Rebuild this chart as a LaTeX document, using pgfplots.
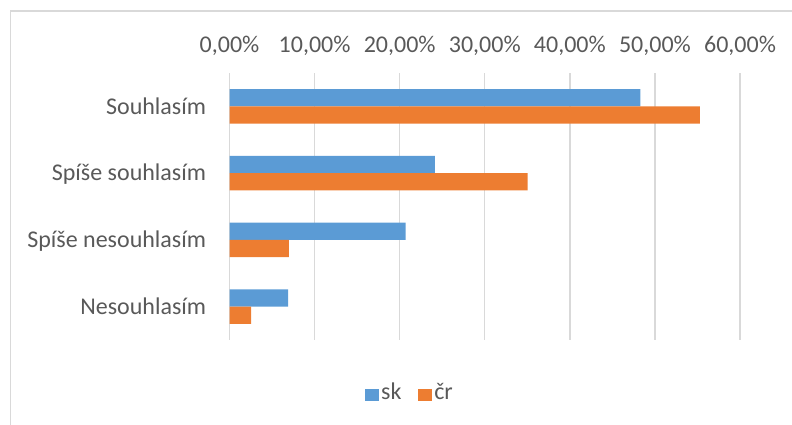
\documentclass[border=0pt]{standalone}
\usepackage{pgfplots}
\pgfplotsset{compat=1.18}
\usepackage{fontspec}
\setmainfont{Carlito}
\definecolor{skblue}{HTML}{5B9BD5}
\definecolor{crorange}{HTML}{ED7D31}
\definecolor{gridgray}{HTML}{D9D9D9}
\definecolor{textgray}{HTML}{595959}
\begin{document}
\fontsize{12bp}{14bp}\selectfont
\begin{tikzpicture}[font=\fontsize{12bp}{14bp}\selectfont]
\useasboundingbox (0,0) rectangle (396bp,-212.5bp);
\draw[gridgray, line width=0.75bp] (5.25bp,-214bp) -- (5.25bp,-5.5bp) -- (398bp,-5.5bp);
\begin{axis}[
  at={(114.75bp,-170bp)}, anchor=south west,
  scale only axis, width=255.25bp, height=133.5bp,
  xbar, bar width=0.26,
  xmin=0, xmax=60, ymin=-0.5, ymax=3.5, y dir=reverse,
  ytick={0,1,2,3},
  yticklabels={Souhlasím, Spíše souhlasím, Spíše nesouhlasím, Nesouhlasím},
  xtick={0,10,...,60},
  xticklabel={\pgfmathprintnumber[fixed,fixed zerofill,precision=2,use comma]{\tick}\%},
  xticklabel pos=top,
  /pgf/number format/assume math mode=true,
  axis line style={draw=none},
  major tick length=0pt,
  xmajorgrids, grid style={gridgray, line width=0.75bp},
  xticklabel style={text=textgray, yshift=4.3bp},
  yticklabel style={text=textgray, xshift=-7.5bp, text height=0.644em, text depth=0pt},
  legend columns=2,
  legend style={at={(axis description cs:0.3536,-0.1985)}, anchor=center, draw=none, fill=none,
    inner sep=0pt, outer sep=0pt,
    /tikz/every even column/.append style={column sep=7bp},
    nodes={inner sep=1.2bp, text=textgray}},
  legend image code/.code={\fill[#1] (0bp,-4bp) rectangle (7bp,2.25bp);},
]
\addplot[draw=none, fill=skblue, bar shift=-0.13] coordinates {(48.28,0) (24.14,1) (20.69,2) (6.90,3)};
\addplot[draw=none, fill=crorange, bar shift=0.13] coordinates {(55.27,0) (35.04,1) (6.97,2) (2.55,3)};
\legend{sk, čr}
\end{axis}
\end{tikzpicture}
\end{document}
